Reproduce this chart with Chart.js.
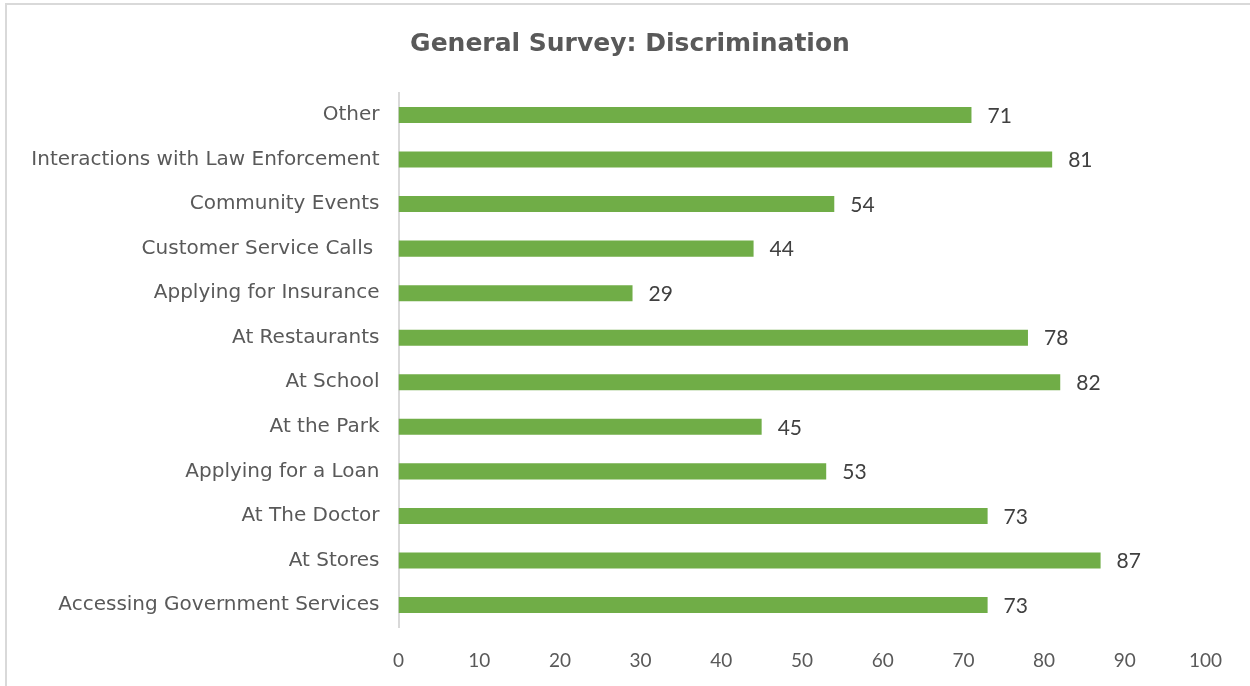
<!DOCTYPE html>
<html lang="en">
<head>
    <meta charset="UTF-8">
    <title>General Survey: Discrimination</title>
    <style>
        html, body { margin: 0; padding: 0; background: #ffffff; overflow: hidden; }
        #wrap { position: relative; width: 1250px; height: 686px; overflow: hidden; }
        /* thin frame on the top and left edges, like the exported chart */
        #frame { position: absolute; left: 5px; top: 3px; width: 1300px; height: 800px;
                 border-top: 2px solid #d9d9d9; border-left: 2px solid #d9d9d9; }
        canvas { position: absolute; left: 0; top: 0; }
    </style>
</head>
<body>
    <div id="wrap">
        <div id="frame"></div>
        <canvas id="surveyChart" width="1250" height="686"></canvas>
    </div>

    <script src="https://cdn.jsdelivr.net/npm/chart.js"></script>

    <script>
        const chartTitle = 'General Survey: Discrimination';

        // categories, top to bottom as shown
        const categories = [
            'Other',
            'Interactions with Law Enforcement',
            'Community Events',
            'Customer Service Calls ',
            'Applying for Insurance',
            'At Restaurants',
            'At School',
            'At the Park',
            'Applying for a Loan',
            'At The Doctor',
            'At Stores',
            'Accessing Government Services'
        ];
        const responses = [71, 81, 54, 44, 29, 78, 82, 45, 53, 73, 87, 73];
        const xTicks = [0, 10, 20, 30, 40, 50, 60, 70, 80, 90, 100];

        const barColor = '#70ad47';
        const textGray = '#595959';

        // title drawn by hand so it sits centred over the whole picture
        const titleText = {
            id: 'titleText',
            afterDraw(chart) {
                const ctx = chart.ctx;
                ctx.save();
                ctx.font = 'bold 25px "DejaVu Sans"';
                ctx.fillStyle = textGray;
                ctx.textAlign = 'center';
                ctx.textBaseline = 'middle';
                ctx.fillText(chartTitle, 630, 44);
                ctx.restore();
            }
        };

        // value labels just to the right of each bar
        const valueLabels = {
            id: 'valueLabels',
            afterDatasetsDraw(chart) {
                const ctx = chart.ctx;
                const meta = chart.getDatasetMeta(0);
                ctx.save();
                ctx.font = '21px Lato';
                ctx.fillStyle = '#404040';
                ctx.textAlign = 'left';
                ctx.textBaseline = 'middle';
                meta.data.forEach((bar, i) => {
                    ctx.fillText(String(responses[i]), bar.x + 16, bar.y + 1);
                });
                ctx.restore();
            }
        };

        const ctx = document.getElementById('surveyChart').getContext('2d');
        const surveyChart = new Chart(ctx, {
            type: 'bar',
            data: {
                labels: categories,
                datasets: [{
                    label: 'Responses',
                    data: responses,
                    backgroundColor: barColor,
                    borderWidth: 0,
                    categoryPercentage: 1,
                    barPercentage: 0.36
                }]
            },
            options: {
                indexAxis: 'y',
                responsive: false,
                animation: false,
                layout: {
                    padding: { left: 0, right: 44.5, top: 92.7, bottom: 0 }
                },
                plugins: {
                    legend: { display: false },
                    tooltip: { enabled: false },
                    title: { display: false }
                },
                scales: {
                    x: {
                        min: 0,
                        max: 100,
                        afterBuildTicks(scale) {
                            scale.ticks = xTicks.map(v => ({ value: v }));
                        },
                        afterFit(scale) {
                            scale.height = 58.7;
                        },
                        grid: { display: false, drawTicks: false },
                        border: { display: false },
                        ticks: {
                            color: textGray,
                            padding: 22,
                            font: { family: 'Lato', size: 19 }
                        }
                    },
                    y: {
                        afterFit(scale) {
                            scale.width = 398.5;
                        },
                        grid: { display: false, drawTicks: false },
                        border: { display: true, color: '#d9d9d9', width: 2 },
                        ticks: {
                            color: textGray,
                            padding: 19,
                            font: { family: 'DejaVu Sans', size: 20 }
                        }
                    }
                }
            },
            plugins: [valueLabels, titleText]
        });
    </script>
</body>
</html>
